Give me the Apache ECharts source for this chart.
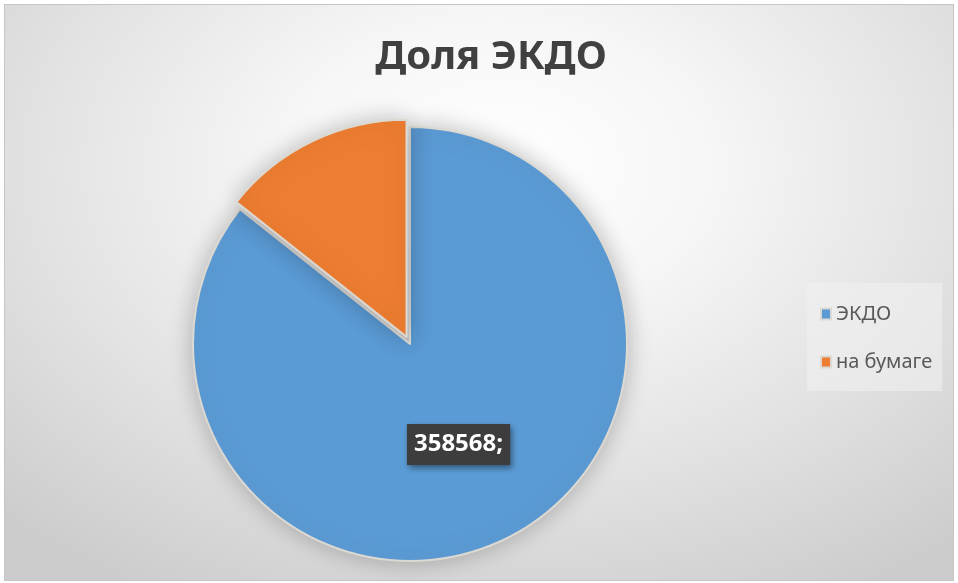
<!DOCTYPE html>
<html>
<head>
<meta charset="utf-8">
<script src="https://cdn.jsdelivr.net/npm/echarts@6/dist/echarts.min.js"></script>
<style>
  html, body { margin: 0; padding: 0; background: #ffffff; }
  #bg {
    position: absolute; left: 4px; top: 4px; width: 948px; height: 575px;
    border: 1px solid #c6c6c6;
    background: radial-gradient(ellipse 75% 85% at 52% 28%, #ffffff 0%, #f6f6f6 30%, #e2e2e2 65%, #cccccc 100%);
  }
  #chart { position: absolute; left: 0; top: 0; width: 958px; height: 583px; }
</style>
</head>
<body>
<div id="bg"></div>
<div id="chart"></div>
<script>
const titleText = 'Доля ЭКДО';
const categories = ['ЭКДО', 'на бумаге'];
const values = [358568, 60000];
const colors = ['#5b9bd5', '#ed7d31'];

const chart = echarts.init(document.getElementById('chart'));
const font = '"Noto Sans", "Open Sans", sans-serif';

const data = categories.map((name, i) => {
  const item = { name: name, value: values[i], itemStyle: { color: colors[i] } };
  if (i === 0) {
    item.label = {
      show: true,
      position: 'inside',
      formatter: '{c};',
      color: '#ffffff',
      fontSize: 24,
      fontWeight: 'bold',
      fontFamily: font,
      backgroundColor: '#3d3d3d',
      padding: [9, 7, 8, 7],
      shadowColor: 'rgba(0,0,0,0.45)',
      shadowBlur: 6,
      shadowOffsetX: 2,
      shadowOffsetY: 3
    };
  } else {
    item.label = { show: false };
    item.selected = true;
  }
  return item;
});

chart.setOption({
  backgroundColor: 'transparent',
  animation: false,
  title: {
    text: titleText,
    left: 486,
    top: 33,
    textAlign: 'center',
    textStyle: { fontFamily: font, fontSize: 40, fontWeight: 'bold', color: '#404040' }
  },
  legend: {
    orient: 'vertical',
    left: 807,
    top: 283,
    icon: 'rect',
    itemWidth: 10,
    itemHeight: 11,
    itemGap: 28,
    padding: [21, 10, 19, 13],
    backgroundColor: 'rgba(240,240,240,0.6)',
    textStyle: { fontFamily: font, fontSize: 20, color: '#595959' },
    data: categories,
    selectedMode: false
  },
  series: [{
    type: 'pie',
    center: [410, 344],
    radius: 217,
    startAngle: 90,
    clockwise: true,
    selectedMode: 'single',
    selectedOffset: 8,
    avoidLabelOverlap: false,
    labelLine: { show: false },
    itemStyle: {
      borderColor: '#dcd8d2',
      borderWidth: 2,
      shadowColor: 'rgba(0,0,0,0.25)',
      shadowBlur: 24
    },
    emphasis: { disabled: true },
    data: data
  }]
});
</script>
</body>
</html>
